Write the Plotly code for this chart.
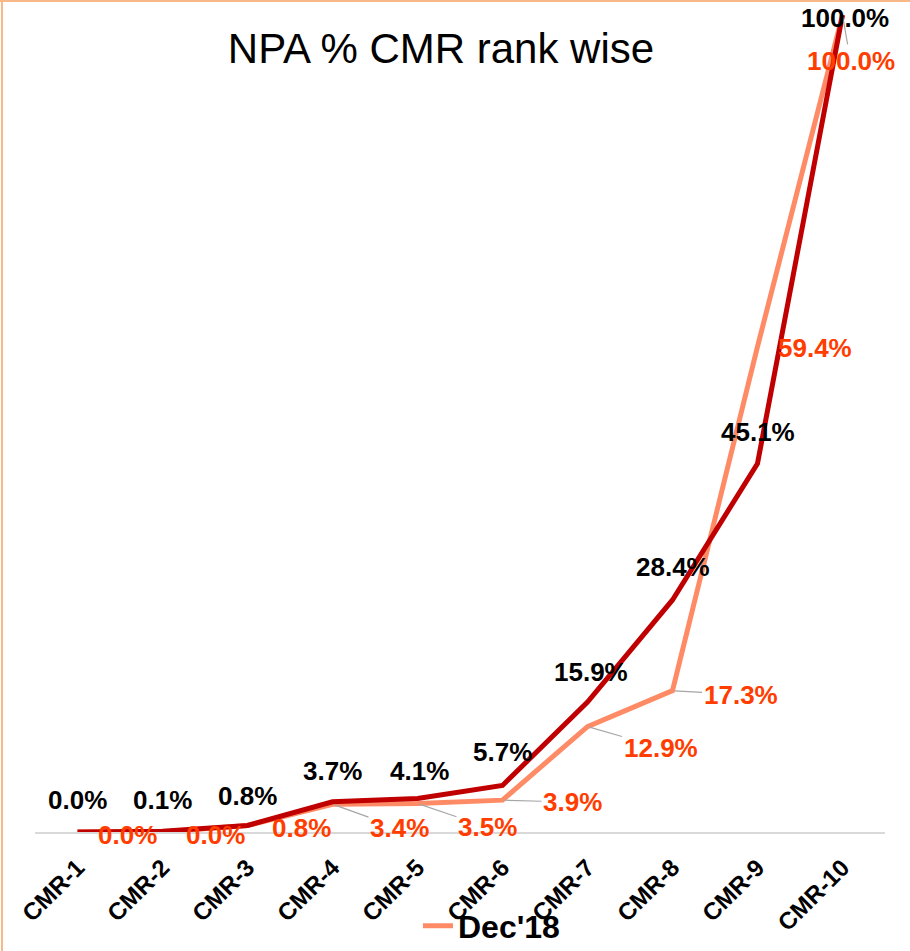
import plotly.graph_objects as go

# chart data
categories = ["CMR-1", "CMR-2", "CMR-3", "CMR-4", "CMR-5",
              "CMR-6", "CMR-7", "CMR-8", "CMR-9", "CMR-10"]
dec18 = [0.0, 0.0, 0.8, 3.4, 3.5, 3.9, 12.9, 17.3, 59.4, 100.0]
latest = [0.0, 0.1, 0.8, 3.7, 4.1, 5.7, 15.9, 28.4, 45.1, 100.0]

# label placement (pixel offsets from the point) and whether a leader line shows
dec18_offsets = [(50, 3), (53, 3), (54, 3), (67, 24), (70, 24),
                 (70, 2), (73, 21), (68, 4), (57, 1), (8, 46)]
dec18_leader = [False, False, False, True, True, True, True, True, False, True]
latest_offsets = [(0, -32), (0, -31), (0, -29), (0, -31), (2, -28),
                  (0, -33), (3, -30), (0, -33), (0, -32), (2, 3)]

W, H = 910, 951
M = dict(l=35, r=25, t=15, b=119)

fig = go.Figure()
fig.add_trace(go.Scatter(
    x=categories, y=dec18, mode='lines', name="Dec'18",
    line=dict(color='#FF8B66', width=5), cliponaxis=False,
))
fig.add_trace(go.Scatter(
    x=categories, y=latest, mode='lines', name="Latest",
    line=dict(color='#C00000', width=5), cliponaxis=False, showlegend=False,
))

lab_font = dict(family='Arial', size=26, weight='bold')
for cat, val, (dx, dy), lead in zip(categories, dec18, dec18_offsets, dec18_leader):
    if lead:
        fig.add_annotation(x=cat, y=val, text=f'{val:.1f}%', showarrow=True,
                           ax=dx, ay=dy, arrowhead=0, arrowwidth=1.2,
                           arrowcolor='#A6A6A6', standoff=2,
                           font=dict(color='#FF3D00', **lab_font))
    else:
        fig.add_annotation(x=cat, y=val, text=f'{val:.1f}%', showarrow=False,
                           xshift=dx, yshift=-dy,
                           font=dict(color='#FF3D00', **lab_font))
for cat, val, (dx, dy) in zip(categories, latest, latest_offsets):
    fig.add_annotation(x=cat, y=val, text=f'{val:.1f}%', showarrow=False,
                       xshift=dx, yshift=-dy,
                       font=dict(color='#000000', **lab_font))

# thin orange frame on the left / top edge
pw = W - M['l'] - M['r']
ph = H - M['t'] - M['b']
fig.add_shape(type='line', xref='paper', yref='paper',
              x0=(2 - M['l']) / pw, x1=(2 - M['l']) / pw,
              y0=-M['b'] / ph, y1=1 + M['t'] / ph,
              line=dict(color='#F8B888', width=2))
fig.add_shape(type='line', xref='paper', yref='paper',
              x0=-M['l'] / pw, x1=1 + M['r'] / pw,
              y0=1 + (M['t'] - 1) / ph, y1=1 + (M['t'] - 1) / ph,
              line=dict(color='#F8B888', width=2))

fig.update_layout(
    width=W, height=H, margin=M,
    paper_bgcolor='white', plot_bgcolor='white',
    title=dict(text='NPA % CMR rank wise', x=441 / W, xref='container',
               xanchor='center', y=1 - 48 / H, yref='container', yanchor='middle',
               font=dict(family='Arial', size=42, color='black')),
    xaxis=dict(showgrid=False, zeroline=False, showline=True, automargin=False,
               range=[-0.5, len(categories) - 0.5],
               linecolor='#D9D9D9', linewidth=2, ticks='', tickangle=-45,
               tickfont=dict(family='Arial', size=24, color='black', weight='bold'),
               ticklabelstandoff=10),
    yaxis=dict(range=[0, 100], visible=False, automargin=False),
    showlegend=True,
    legend=dict(orientation='h', xref='container', x=418 / W, xanchor='left',
                yref='container', y=25 / H, yanchor='middle',
                font=dict(family='Arial', size=32, color='black', weight='bold'),
                bgcolor='rgba(0,0,0,0)'),
)

fig.write_html("out.html", config={'displayModeBar': False},
               post_script="document.body.style.margin='0';")
